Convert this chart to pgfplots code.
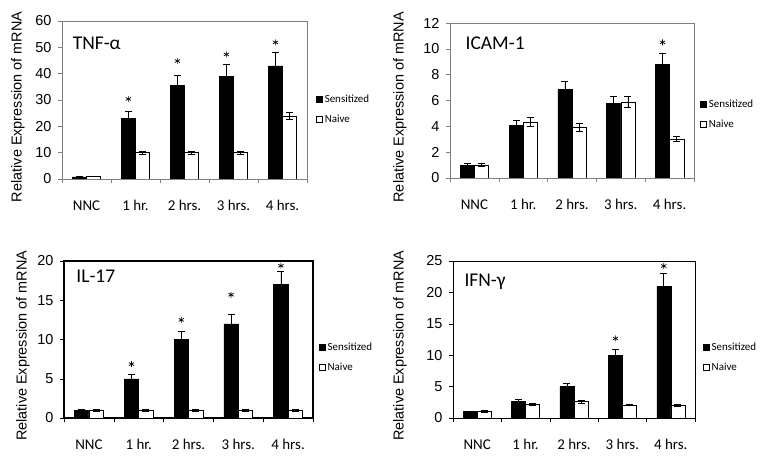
\documentclass[border=0pt]{standalone}
\usepackage{pgfplots}
\pgfplotsset{compat=1.18}
\usepackage{fontspec}
\setmainfont{Carlito}
\newfontfamily\arial{Liberation Sans}
\tikzset{ttl/.style={font=\fontsize{19.5}{19.5}\selectfont, anchor=west}}
\pgfplotsset{
 panel/.style={
  scale only axis, anchor=south west,
  xmin=-0.5, xmax=4.5, ymin=0,
  xtick={0,1,2,3,4}, xticklabels={NNC,1 hr.,2 hrs.,3 hrs.,4 hrs.},
  minor xtick={-0.5,0.5,1.5,2.5,3.5,4.5},
  major x tick style={draw=none},
  tick align=outside, tick pos=left,
  major tick length=4bp, minor tick length=4bp,
  /pgf/number format/assume math mode=true,
  yticklabel style={font=\arial\fontsize{14.5}{14.5}\selectfont, xshift=-3bp},
  xticklabel style={font=\fontsize{15}{15}\selectfont, yshift=-14bp},
  ylabel={Relative Expression of mRNA},
  ylabel style={font=\arial\fontsize{14.5}{14.5}\selectfont, anchor=center},
  legend style={draw=none, fill=none, anchor=west, font=\fontsize{11}{11}\selectfont, row sep=7bp, inner sep=0pt},
  legend cell align=left,
  legend image code/.code={\draw[#1] (0bp,-3bp) rectangle (6bp,3bp);},
 },
 sens/.style={ybar, bar width=0.29, bar shift=0, fill=black, draw=black, line width=0.5bp,
   error bars/.cd, y dir=both, y explicit,
   error bar style={line width=0.7bp, black},
   error mark options={rotate=90, mark size=3.5bp, line width=0.7bp, black}},
 naive/.style={ybar, bar width=0.29, bar shift=0, fill=white, draw=black, line width=0.5bp,
   error bars/.cd, y dir=both, y explicit,
   error bar style={line width=0.7bp, black},
   error mark options={rotate=90, mark size=3.5bp, line width=0.7bp, black}},
 star/.style={only marks, mark=asterisk, mark size=3bp, black, forget plot, mark options={line width=0.7bp}},
}
\begin{document}
\begin{tikzpicture}
\path[use as bounding box] (0,0) rectangle (764bp,458bp);
% TNF
\begin{axis}[panel, at={(62bp,279bp)}, width=245bp, height=158bp,
  ymax=60, ytick={0,10,...,60},
  axis line style={gray}, every tick/.style={gray},
  ylabel style={at={(axis description cs:-0.18,0.456)}},
  legend style={at={(axis description cs:1.037,0.44)}}]
\addplot[sens] coordinates {(-0.145,0.8) +- (0,0.2) (0.855,23) +- (0,2.5) (1.855,35.5) +- (0,4) (2.855,39) +- (0,4.5) (3.855,43) +- (0,5)};
\addlegendentry{Sensitized}
\addplot[naive] coordinates {(0.145,1) +- (0,0.1) (1.145,10) +- (0,0.5) (2.145,10) +- (0,0.5) (3.145,10) +- (0,0.5) (4.145,24) +- (0,1.2)};
\addlegendentry{Naive}
\addplot[star] coordinates {(0.855,30.4) (1.855,44.8) (2.855,47.3) (3.855,51.9)};
\node[ttl] at (axis description cs:0.03,0.86) {TNF-α};
\end{axis}
% ICAM
\begin{axis}[panel, at={(450bp,280bp)}, width=244bp, height=155bp,
  ymax=12, ytick={0,2,...,12},
  axis line style={gray}, every tick/.style={gray},
  ylabel style={at={(axis description cs:-0.205,0.456)}},
  legend style={at={(axis description cs:1.025,0.41)}}]
\addplot[sens] coordinates {(-0.145,1.0) +- (0,0.1) (0.855,4.1) +- (0,0.4) (1.855,6.85) +- (0,0.65) (2.855,5.75) +- (0,0.55) (3.855,8.8) +- (0,0.85)};
\addlegendentry{Sensitized}
\addplot[naive] coordinates {(0.145,1.0) +- (0,0.1) (1.145,4.35) +- (0,0.35) (2.145,3.9) +- (0,0.3) (3.145,5.9) +- (0,0.45) (4.145,3.0) +- (0,0.2)};
\addlegendentry{Naive}
\addplot[star] coordinates {(3.855,10.5)};
\node[ttl] at (axis description cs:0.05,0.87) {ICAM-1};
\end{axis}
% IL-17
\begin{axis}[panel, at={(64bp,40bp)}, width=249bp, height=157bp,
  ymax=20, ytick={0,5,...,20},
  axis line style={black, line width=1.5bp}, every tick/.style={black, line width=0.5bp},
  ylabel style={at={(axis description cs:-0.165,0.46)}},
  legend style={at={(axis description cs:1.024,0.385)}}]
\addplot[sens] coordinates {(-0.145,1.0) +- (0,0.1) (0.855,5.0) +- (0,0.5) (1.855,10) +- (0,1.0) (2.855,12) +- (0,1.2) (3.855,17) +- (0,1.7)};
\addlegendentry{Sensitized}
\addplot[naive] coordinates {(0.145,1.0) +- (0,0.1) (1.145,1.0) +- (0,0.1) (2.145,1.0) +- (0,0.1) (3.145,1.0) +- (0,0.1) (4.145,1.0) +- (0,0.1)};
\addlegendentry{Naive}
\addplot[star] coordinates {(0.855,6.86) (1.855,12.5) (2.855,15.7) (3.855,19.4)};
\node[ttl] at (axis description cs:0.036,0.9) {IL-17};
\end{axis}
% IFN
\begin{axis}[panel, at={(453bp,40bp)}, width=242bp, height=157bp,
  ymax=25, ytick={0,5,...,25},
  axis line style={black, line width=0.8bp}, every tick/.style={black, line width=0.5bp},
  ylabel style={at={(axis description cs:-0.219,0.46)}},
  legend style={at={(axis description cs:1.033,0.385)}}]
\addplot[sens] coordinates {(-0.145,1.0) +- (0,0.1) (0.855,2.7) +- (0,0.3) (1.855,5.0) +- (0,0.5) (2.855,10) +- (0,0.9) (3.855,21) +- (0,2)};
\addlegendentry{Sensitized}
\addplot[naive] coordinates {(0.145,1.05) +- (0,0.1) (1.145,2.2) +- (0,0.2) (2.145,2.6) +- (0,0.25) (3.145,2.1) +- (0,0.15) (4.145,2.0) +- (0,0.15)};
\addlegendentry{Naive}
\addplot[star] coordinates {(2.855,12.66) (3.855,24.2)};
\node[ttl] at (axis description cs:0.033,0.87) {IFN-γ};
\end{axis}
\end{tikzpicture}
\end{document}
